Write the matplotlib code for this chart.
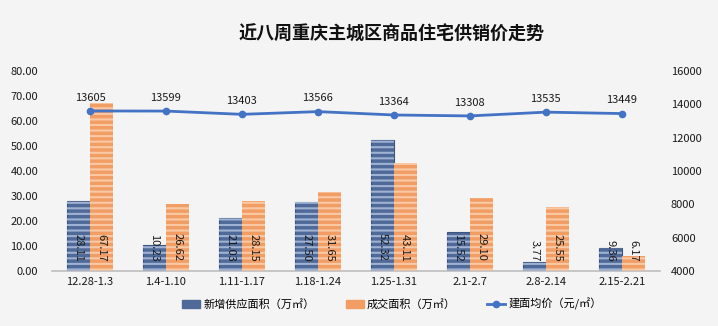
import matplotlib.pyplot as plt
import numpy as np
from matplotlib.patches import Patch

plt.rcParams['font.family'] = ['Noto Sans CJK SC', 'DejaVu Sans']
plt.rcParams['hatch.linewidth'] = 1.5

weeks = ['12.28-1.3', '1.4-1.10', '1.11-1.17', '1.18-1.24',
         '1.25-1.31', '2.1-2.7', '2.8-2.14', '2.15-2.21']
new_supply = [28.11, 10.23, 21.03, 27.50, 52.32, 15.52, 3.77, 9.36]
deals = [67.17, 26.62, 28.15, 31.65, 43.11, 29.10, 25.55, 6.17]
avg_price = [13605, 13599, 13403, 13566, 13364, 13308, 13535, 13449]

bg = '#f4f4f4'
fig = plt.figure(figsize=(7.18, 3.26), dpi=100, facecolor=bg)
ax = fig.add_axes([0.0724, 0.1687, 0.8466, 0.6133], facecolor=bg)
ax2 = ax.twinx()

x = np.arange(len(weeks))
w = 0.3

# striped bar fill: solid base plus lighter horizontal hatch on top
ax.bar(x - w / 2, new_supply, w, color='#4f6a98', edgecolor='#3c5480',
       linewidth=0.8, zorder=2)
ax.bar(x - w / 2, new_supply, w, facecolor='none', edgecolor='#9fb2d3',
       hatch='---', linewidth=0, zorder=3, label='新增供应面积（万㎡）')
ax.bar(x + w / 2, deals, w, color='#f29d64', linewidth=0, zorder=2)
ax.bar(x + w / 2, deals, w, facecolor='none', edgecolor='#f9c9a6',
       hatch='---', linewidth=0, zorder=3, label='成交面积（万㎡）')

for xi, v in zip(x, new_supply):
    ax.annotate(f'{v:.2f}', (xi - w / 2, 0), xytext=(0, 7), textcoords='offset points',
                rotation=-90, ha='center', va='bottom', fontsize=8, color='#1a1a1a', zorder=5)
for xi, v in zip(x, deals):
    ax.annotate(f'{v:.2f}', (xi + w / 2, 0), xytext=(0, 7), textcoords='offset points',
                rotation=-90, ha='center', va='bottom', fontsize=8, color='#1a1a1a', zorder=5)

ax2.plot(x, avg_price, color='#4472c4', linewidth=2, marker='o', markersize=4.5,
         label='建面均价（元/㎡）', zorder=4)
for xi, v in zip(x, avg_price):
    ax2.annotate(str(v), (xi, v), xytext=(0, 6), textcoords='offset points',
                 ha='center', va='bottom', fontsize=8, color='#1a1a1a')

ax.set_xlim(-0.5, 7.5)
ax.set_ylim(0, 80)
ax.set_yticks(np.arange(0, 81, 10))
ax.set_yticklabels([f'{t:.2f}' for t in np.arange(0, 81, 10)])
ax2.set_ylim(4000, 16000)
ax2.set_yticks(np.arange(4000, 16001, 2000))
ax.set_xticks(x)
ax.set_xticklabels(weeks)

for a in (ax, ax2):
    for s in a.spines.values():
        s.set_visible(False)
    a.tick_params(length=0, labelsize=8, colors='#1a1a1a', pad=4)
ax.spines['bottom'].set_visible(True)
ax.spines['bottom'].set_color('#bfbfbf')
ax.spines['bottom'].set_linewidth(1.2)
ax.tick_params(axis='y', pad=10)
ax2.tick_params(axis='y', pad=8)

fig.text(0.546, 0.895, '近八周重庆主城区商品住宅供销价走势', ha='center', va='center',
         fontsize=13, fontweight='heavy', color='#111111')

h1, l1 = ax.get_legend_handles_labels()
h2, l2 = ax2.get_legend_handles_labels()
handles = [Patch(color='#4f6a98'), Patch(color='#f29d64'), h2[0]]
fig.legend(handles, [l1[0], l1[1], l2[0]], loc='center', bbox_to_anchor=(0.546, 0.067),
           ncol=3, frameon=False, fontsize=8, columnspacing=2.8, handlelength=1.6,
           handletextpad=0.3)

fig.savefig('out.png', dpi=100, facecolor=bg)
